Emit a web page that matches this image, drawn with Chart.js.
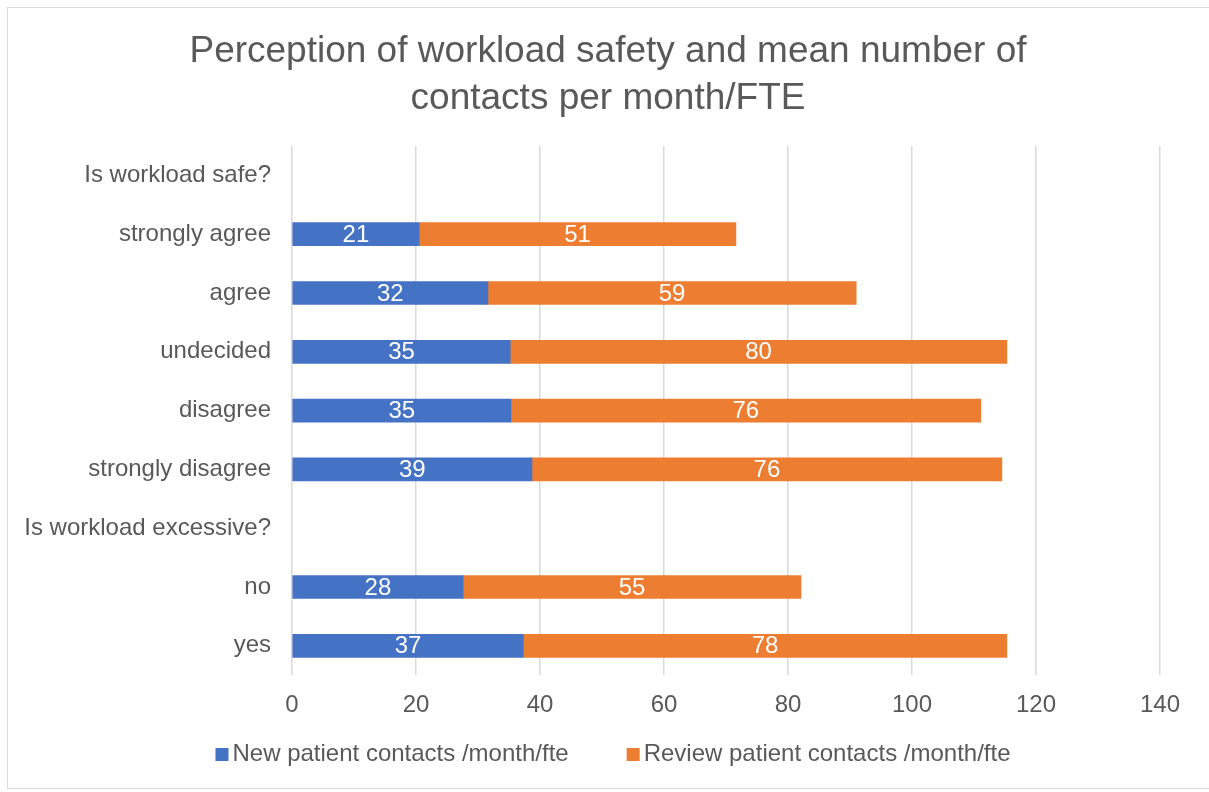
<!DOCTYPE html>
<html>
<head>
<meta charset="utf-8">
<script src="https://cdn.jsdelivr.net/npm/chart.js@4/dist/chart.umd.min.js"></script>
<style>
  body { margin: 0; background: #fff; }
  #wrap { width: 1209px; height: 792px; }
</style>
</head>
<body>
<div id="wrap"><canvas id="chart" width="1209" height="792"></canvas></div>
<script>
// === DATOS ===
const categorias = [
  "Is workload safe?", "strongly agree", "agree", "undecided", "disagree",
  "strongly disagree", "Is workload excessive?", "no", "yes"
];
const nuevos = [null, 20.5, 31.6, 35.2, 35.3, 38.7, null, 27.6, 37.3];
const revision = [null, 51.1, 59.4, 80.1, 75.8, 75.8, null, 54.5, 78.0];
const nombresSeries = ["New patient contacts /month/fte", "Review patient contacts /month/fte"];
const tituloLineas = ["Perception of workload safety and mean number of", "contacts per month/FTE"];

const FUENTE = "'Liberation Sans', Arial, sans-serif";
const GRIS = "#595959";

// borde exterior + fondo
const bordePlugin = {
  id: "borde",
  beforeDraw(chart) {
    const ctx = chart.ctx;
    ctx.save();
    ctx.fillStyle = "#fff";
    ctx.fillRect(0, 0, chart.width, chart.height);
    ctx.strokeStyle = "#D9D9D9";
    ctx.lineWidth = 1;
    ctx.strokeRect(7.5, 7.5, 1210, 781);
    ctx.restore();
  }
};

// título de dos líneas (centrado como en el original)
const tituloPlugin = {
  id: "titulo",
  afterDraw(chart) {
    const ctx = chart.ctx;
    ctx.save();
    ctx.fillStyle = GRIS;
    ctx.font = "37px " + FUENTE;
    ctx.textAlign = "center";
    ctx.textBaseline = "alphabetic";
    ctx.fillText(tituloLineas[0], 608, 62);
    ctx.fillText(tituloLineas[1], 608, 109);
    ctx.restore();
  }
};

// leyenda dibujada a mano
const leyendaPlugin = {
  id: "leyenda",
  afterDraw(chart) {
    const ctx = chart.ctx;
    const caja = 13, sep = 4, hueco = 58, yCentro = 754;
    ctx.save();
    ctx.font = "24px " + FUENTE;
    ctx.textBaseline = "middle";
    const anchos = chart.data.datasets.map(ds => ctx.measureText(ds.label).width);
    let total = 0;
    anchos.forEach((w, i) => { total += caja + sep + w + (i > 0 ? hueco : 0); });
    let x = 613 - total / 2;
    chart.data.datasets.forEach((ds, i) => {
      ctx.fillStyle = ds.backgroundColor;
      ctx.fillRect(x, yCentro - 6, caja, caja);
      ctx.fillStyle = GRIS;
      ctx.textAlign = "left";
      ctx.fillText(ds.label, x + caja + sep, yCentro);
      x += caja + sep + anchos[i] + hueco;
    });
    ctx.restore();
  }
};

// etiquetas dentro de las barras
const etiquetasPlugin = {
  id: "etiquetas",
  afterDatasetsDraw(chart) {
    const ctx = chart.ctx;
    ctx.save();
    ctx.fillStyle = "#fff";
    ctx.font = "24px " + FUENTE;
    ctx.textAlign = "center";
    ctx.textBaseline = "middle";
    chart.data.datasets.forEach((ds, i) => {
      chart.getDatasetMeta(i).data.forEach((bar, j) => {
        const v = ds.data[j];
        if (v == null) return;
        const cx = (bar.x + bar.base) / 2;
        ctx.fillText(Math.round(v), cx, bar.y + 1);
      });
    });
    ctx.restore();
  }
};

new Chart(document.getElementById("chart"), {
  type: "bar",
  data: {
    labels: categorias,
    datasets: [
      { label: nombresSeries[0], data: nuevos, backgroundColor: "#4472C4", borderWidth: 0 },
      { label: nombresSeries[1], data: revision, backgroundColor: "#ED7D31", borderWidth: 0 }
    ]
  },
  options: {
    indexAxis: "y",
    responsive: false,
    animation: false,
    layout: { padding: { top: 146, left: 10, right: 49, bottom: 56 } },
    barThickness: 23,
    scales: {
      x: {
        stacked: true,
        min: 0,
        max: 140,
        ticks: { stepSize: 20, color: GRIS, font: { family: FUENTE, size: 24 }, padding: 16 },
        grid: { color: "#D9D9D9", lineWidth: 1.5, drawTicks: false },
        border: { display: false }
      },
      y: {
        stacked: true,
        ticks: { color: GRIS, font: { family: FUENTE, size: 24 }, padding: 21 },
        grid: { display: false, drawTicks: false },
        border: { display: false },
        afterFit(scale) { scale.width = 282; }
      }
    },
    plugins: {
      title: { display: false },
      legend: { display: false },
      tooltip: { enabled: false }
    }
  },
  plugins: [bordePlugin, etiquetasPlugin, tituloPlugin, leyendaPlugin]
});
</script>
</body>
</html>
